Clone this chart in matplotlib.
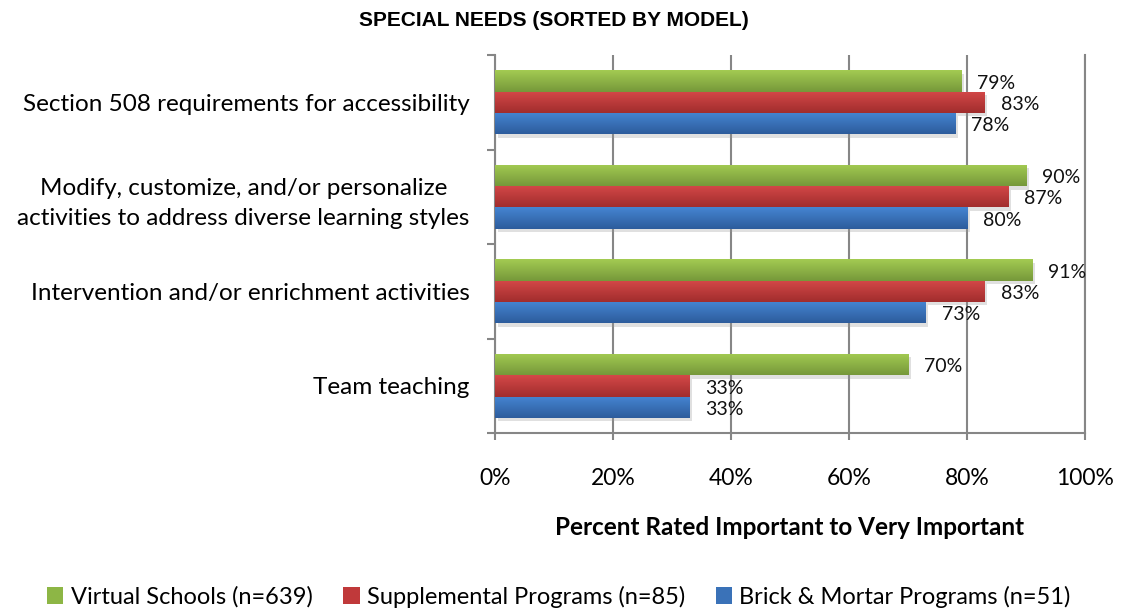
import matplotlib
matplotlib.use("Agg")
import matplotlib.pyplot as plt
import matplotlib.patheffects as pe
from matplotlib.colors import LinearSegmentedColormap
from matplotlib.patches import Patch
import numpy as np

plt.rcParams['font.family'] = ['Lato', 'DejaVu Sans']

categories = [
    "Section 508 requirements for accessibility",
    "Modify, customize, and/or personalize\nactivities to address diverse learning styles",
    "Intervention and/or enrichment activities",
    "Team teaching",
]
series_names = ["Virtual Schools (n=639)", "Supplemental Programs (n=85)", "Brick & Mortar Programs (n=51)"]
virtual = [79, 90, 91, 70]
supplemental = [83, 87, 83, 33]
brick = [78, 80, 73, 33]

# (top, bottom) gradient colours per series
grads = [("#a3cb52", "#76983a"), ("#d44848", "#a12d2d"), ("#4585d2", "#2d5c9c")]
solid = ["#8db645", "#c0393a", "#3a72b8"]

fig = plt.figure(figsize=(11.22, 6.11), dpi=100)
ax = fig.add_axes([0.441, 0.291, 0.526, 0.619])

n = len(categories)
ypos = np.arange(n)[::-1]  # first category on top
h = 0.225
offsets = [h, 0, -h]

grad = np.linspace(0, 1, 64).reshape(-1, 1)
for vals, off, (ctop, cbot), col in zip([virtual, supplemental, brick], offsets, grads, solid):
    bars = ax.barh(ypos + off, np.array(vals) / 100, height=h, color=col, zorder=3,
                   path_effects=[pe.SimplePatchShadow(offset=(2, -2.5), alpha=0.3, shadow_rgbFace="#999999"),
                                 pe.Normal()])
    cmap = LinearSegmentedColormap.from_list("g", [ctop, cbot])
    for b, v in zip(bars, vals):
        x0, y0 = b.get_x(), b.get_y()
        w, hh = b.get_width(), b.get_height()
        im = ax.imshow(grad, cmap=cmap, aspect='auto', extent=(x0, x0 + w, y0, y0 + hh),
                       origin='upper', zorder=4, interpolation='bilinear')
        im.set_clip_path(b)
        ax.annotate(f"{v}%", (x0 + w, y0 + hh / 2), xytext=(11.5, -1.5), textcoords='offset points',
                    va='center', ha='left', fontsize=14, color='#111111', zorder=5)

ax.set_xlim(0, 1)
ax.set_ylim(-0.5, n - 0.5)
ax.set_xticks(np.linspace(0, 1, 6))
ax.set_xticklabels([f"{int(t*100)}%" for t in np.linspace(0, 1, 6)], fontsize=16.5)
ax.set_yticks(ypos)
ax.set_yticklabels(categories, fontsize=17.5, multialignment='center', linespacing=1.55)
ax.set_yticks(np.arange(-0.5, n, 1), minor=True)

ax.grid(axis='x', color='#868686', linewidth=1.5, zorder=0)
ax.tick_params(axis='x', length=5, width=1.5, color='#868686', pad=20, direction='out')
ax.tick_params(axis='y', which='major', length=0, pad=18)
ax.tick_params(axis='y', which='minor', length=6, width=1.5, color='#868686')

for s in ['top']:
    ax.spines[s].set_visible(False)
for s in ['left', 'bottom', 'right']:
    ax.spines[s].set_color('#868686')
    ax.spines[s].set_linewidth(1.5)

fig.text(0.494, 0.966, "SPECIAL NEEDS (SORTED BY MODEL)", ha='center', va='center',
         fontsize=15, fontweight='bold', family=['Liberation Sans Narrow', 'Liberation Sans'])
fig.text(0.704, 0.137, "Percent Rated Important to Very Important", ha='center', va='center',
         fontsize=17.5, fontweight='bold')

handles = [Patch(facecolor=c, edgecolor='none') for c in solid]
fig.legend(handles, series_names, loc='center', bbox_to_anchor=(0.498, 0.023), ncol=3,
           frameon=False, fontsize=17, handlelength=0.7, handleheight=0.7,
           handletextpad=0.3, columnspacing=1.3)

fig.savefig("out.png", dpi=100)
